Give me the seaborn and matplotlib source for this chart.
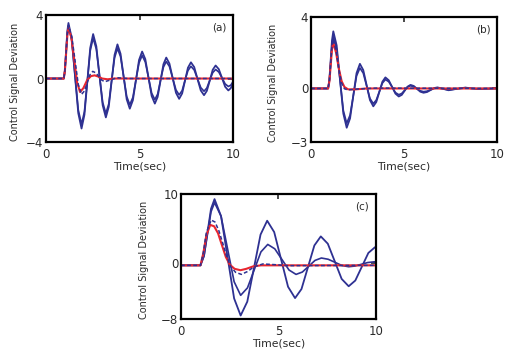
import matplotlib
matplotlib.use("Agg")
import matplotlib.pyplot as plt
import seaborn as sns

# ---- panel (a) ----
a_out_t = [0, 0.95, 1.01, 1.075, 1.14, 1.2, 1.375, 1.55, 1.725, 1.9, 2.055, 2.21, 2.365, 2.52,
           2.69, 2.86, 3.03, 3.2, 3.355, 3.51, 3.665, 3.82, 3.985, 4.15, 4.315, 4.48, 4.645, 4.81,
           4.975, 5.14, 5.31, 5.48, 5.65, 5.82, 5.97, 6.125, 6.28, 6.43, 6.6, 6.775, 6.95, 7.12,
           7.28, 7.435, 7.59, 7.75, 7.925, 8.1, 8.275, 8.45, 8.6, 8.76, 8.915, 9.07, 9.24, 9.41,
           9.58, 9.75, 9.88, 10.0]
a_out_v = [0, 0, 0.51, 1.75, 2.99, 3.5, 2.53, 0.18, -2.18, -3.15, -2.28, -0.18, 1.93, 2.8,
           2.03, 0.18, -1.68, -2.45, -1.78, -0.15, 1.48, 2.15, 1.56, 0.13, -1.31, -1.9, -1.37, -0.1,
           1.17, 1.7, 1.22, 0.06, -1.1, -1.58, -1.16, -0.13, 0.9, 1.32, 0.94, 0.02, -0.9, -1.28,
           -0.94, -0.13, 0.68, 1.02, 0.72, -0.02, -0.75, -1.05, -0.78, -0.12, 0.55, 0.82, 0.59, 0.04,
           -0.52, -0.75, -0.61, -0.3]

a_in_t = a_out_t
a_in_v = [0, 0, 0.48, 1.65, 2.85, 3.35, 2.4, 0.2, -1.98, -2.88, -2.08, -0.15, 1.75, 2.55,
          1.85, 0.18, -1.5, -2.2, -1.6, -0.12, 1.3, 1.9, 1.38, 0.13, -1.13, -1.65, -1.19, -0.08,
          0.99, 1.45, 1.04, 0.06, -0.92, -1.33, -0.98, -0.1, 0.72, 1.07, 0.76, 0.02, -0.72, -1.03,
          -0.76, -0.1, 0.5, 0.77, 0.54, -0.02, -0.57, -0.8, -0.6, -0.1, 0.37, 0.57, 0.41, 0.04,
          -0.34, -0.5, -0.42, -0.2]

a_red_t = [0, 0.95, 1.01, 1.075, 1.14, 1.2, 1.355, 1.51, 1.665, 1.82, 2.0, 2.2, 2.4, 2.6, 2.8, 3.0, 3.3, 3.6, 10]
a_red_v = [0, 0, 0.5, 1.6, 2.7, 3.2, 2.6, 1.18, -0.26, -0.85, -0.6, -0.1, 0.15, 0.2, 0.12, 0.0, -0.05, 0, 0]

a_dash_t = [0, 0.95, 1.01, 1.075, 1.14, 1.2, 1.375, 1.55, 1.725, 1.9, 2.05, 2.2, 2.35, 2.5,
            2.66, 2.825, 2.99, 3.15, 3.475, 3.8, 4.4, 10]
a_dash_v = [0, 0, 0.5, 1.65, 2.8, 3.3, 2.67, 1.15, -0.37, -1.0, -0.79, -0.28, 0.24, 0.45,
            0.36, 0.13, -0.11, -0.2, -0.08, 0.05, 0, 0]

# ---- panel (b) ----
b_out_t = [0, 0.92, 0.99, 1.06, 1.13, 1.2, 1.38, 1.56, 1.74, 1.92, 2.1, 2.275, 2.45, 2.63,
           2.81, 2.99, 3.17, 3.35, 3.51, 3.675, 3.84, 4.0, 4.18, 4.36, 4.54, 4.72, 4.88, 5.035,
           5.19, 5.35, 5.525, 5.7, 5.875, 6.05, 6.24, 6.425, 6.61, 6.8, 7.1, 7.4, 7.85, 8.3,
           8.65, 9.0, 10.0]
b_out_v = [0, 0, 0.5, 1.6, 2.7, 3.2, 2.41, 0.5, -1.41, -2.2, -1.68, -0.41, 0.86, 1.38,
           1.03, 0.19, -0.65, -1.0, -0.76, -0.19, 0.38, 0.62, 0.46, 0.09, -0.29, -0.45, -0.36, -0.13,
           0.1, 0.2, 0.14, -0.02, -0.18, -0.24, -0.2, -0.09, 0.02, 0.06, -0.02, -0.1, -0.02, 0.05,
           0, -0.03, 0]

b_in_t = b_out_t
b_in_v = [0, 0, 0.45, 1.45, 2.45, 2.9, 2.19, 0.48, -1.24, -1.95, -1.5, -0.4, 0.7, 1.15,
          0.86, 0.15, -0.56, -0.85, -0.65, -0.18, 0.3, 0.5, 0.38, 0.08, -0.23, -0.35, -0.28, -0.1,
          0.08, 0.15, 0.1, -0.02, -0.13, -0.18, -0.15, -0.08, 0.0, 0.03, -0.02, -0.08, -0.02, 0.04,
          0, -0.02, 0]

b_red_t = [0, 0.92, 0.99, 1.06, 1.13, 1.2, 1.35, 1.5, 1.65, 1.8, 2.0, 2.4, 3.0, 10]
b_red_v = [0, 0, 0.4, 1.3, 2.2, 2.55, 2.0, 1.1, 0.4, 0.08, -0.05, -0.05, 0, 0]

b_dash_t = [0, 0.92, 0.99, 1.06, 1.13, 1.2, 1.35, 1.5, 1.65, 1.8, 2.0, 2.5, 3.5, 10]
b_dash_v = [0, 0, 0.45, 1.4, 2.4, 2.75, 2.1, 1.05, 0.3, -0.02, -0.08, -0.03, 0.02, 0]

# ---- panel (c) ----
c_out_t = [0, 1.0, 1.18, 1.36, 1.54, 1.72, 2.055, 2.39, 2.725, 3.06, 3.4, 3.74, 4.08, 4.42,
           4.78, 5.135, 5.49, 5.85, 6.18, 6.51, 6.84, 7.17, 7.53, 7.885, 8.24, 8.6, 8.94, 9.275,
           9.61, 9.95, 10.0]
c_out_v = [-0.3, -0.3, 1.09, 4.45, 7.81, 9.2, 6.75, 0.85, -5.05, -7.5, -5.51, -0.7, 4.11, 6.1,
           4.47, 0.55, -3.37, -5.0, -3.7, -0.58, 2.55, 3.85, 2.8, 0.28, -2.25, -3.3, -2.48, -0.5,
           1.48, 2.3, 2.3]

c_in_t = [0, 1.0, 1.18, 1.36, 1.54, 1.72, 2.055, 2.39, 2.725, 3.06, 3.41, 3.755, 4.1, 4.45,
          4.81, 5.175, 5.54, 5.9, 6.225, 6.55, 6.875, 7.2, 7.55, 7.9, 8.25, 8.6, 8.925, 9.25,
          9.575, 9.9, 10.0]
c_in_v = [-0.3, -0.3, 1.02, 4.2, 7.38, 8.7, 6.75, 2.05, -2.65, -4.6, -3.53, -0.95, 1.63, 2.7,
          2.07, 0.55, -0.97, -1.6, -1.26, -0.43, 0.41, 0.75, 0.57, 0.13, -0.32, -0.5, -0.4, -0.15,
          0.1, 0.2, 0.2]

c_red_t = [0, 1.0, 1.15, 1.3, 1.5, 1.7, 1.9, 2.1, 2.3, 2.5, 2.75, 3.05, 3.35, 3.7, 4.1, 10]
c_red_v = [-0.3, -0.3, 1.5, 4.0, 5.5, 5.3, 4.3, 2.6, 0.9, -0.2, -0.8, -1.0, -0.8, -0.45, -0.3, -0.3]

c_dash_t = [0, 1.0, 1.15, 1.3, 1.55, 1.75, 1.95, 2.15, 2.35, 2.55, 2.8, 3.1, 3.4, 3.75, 4.2, 4.8, 5.5, 10]
c_dash_v = [-0.3, -0.3, 1.6, 4.4, 6.2, 5.9, 4.6, 2.8, 0.9, -0.5, -1.3, -1.6, -1.2, -0.5, -0.1, -0.2, -0.35, -0.3]

panels = [
    ("(a)", (a_out_t, a_out_v), (a_in_t, a_in_v), (a_red_t, a_red_v), (a_dash_t, a_dash_v), (-4, 4), [-4, 0, 4]),
    ("(b)", (b_out_t, b_out_v), (b_in_t, b_in_v), (b_red_t, b_red_v), (b_dash_t, b_dash_v), (-3, 4), [-3, 0, 4]),
    ("(c)", (c_out_t, c_out_v), (c_in_t, c_in_v), (c_red_t, c_red_v), (c_dash_t, c_dash_v), (-8, 10), [-8, 0, 10]),
]

sns.set_style("white")
plt.rcParams["font.family"] = ["DejaVu Sans"]

BLUE = "#2e3192"
RED = "#e8262f"
TXT = "#2a2a2a"

fig = plt.figure(figsize=(5.13, 3.57), dpi=100)
boxes = [
    [0.0897, 0.6022, 0.3645, 0.3557],
    [0.6062, 0.6022, 0.3626, 0.3500],
    [0.3528, 0.1064, 0.3801, 0.3515],
]
ylab_x = [-0.139, -0.177, -0.165]

for (name, out, inn, red, dash, ylim, yticks), box, lx in zip(panels, boxes, ylab_x):
    ax = fig.add_axes(box)
    sns.lineplot(x=out[0], y=out[1], ax=ax, color=BLUE, lw=1.3, sort=False, estimator=None)
    sns.lineplot(x=inn[0], y=inn[1], ax=ax, color=BLUE, lw=1.2, sort=False, estimator=None)
    sns.lineplot(x=red[0], y=red[1], ax=ax, color=RED, lw=1.5, sort=False, estimator=None)
    sns.lineplot(x=dash[0], y=dash[1], ax=ax, color=BLUE, lw=1.1, sort=False, estimator=None,
                 linestyle=(0, (2.5, 1.5)))
    ax.set_xlim(0, 10)
    ax.set_ylim(*ylim)
    ax.set_xticks([0, 5, 10])
    ax.set_yticks(yticks)
    ax.tick_params(direction="in", top=True, right=True, length=3.5, width=1.2,
                   labelsize=8.5, colors=TXT)
    ax.tick_params(axis="x", pad=4)
    ax.tick_params(axis="y", pad=2)
    for s in ax.spines.values():
        s.set_linewidth(1.6)
        s.set_color("black")
    ax.set_xlabel("Time(sec)", fontsize=7.8, color=TXT)
    ax.set_ylabel("Control Signal Deviation", fontsize=7, color=TXT)
    ax.xaxis.set_label_coords(0.5, -0.155)
    ax.yaxis.set_label_coords(lx, 0.47)
    ax.text(0.965, 0.9, name, transform=ax.transAxes, ha="right", va="center",
            fontsize=7.5, color=TXT)

fig.savefig("out.png", dpi=100)
